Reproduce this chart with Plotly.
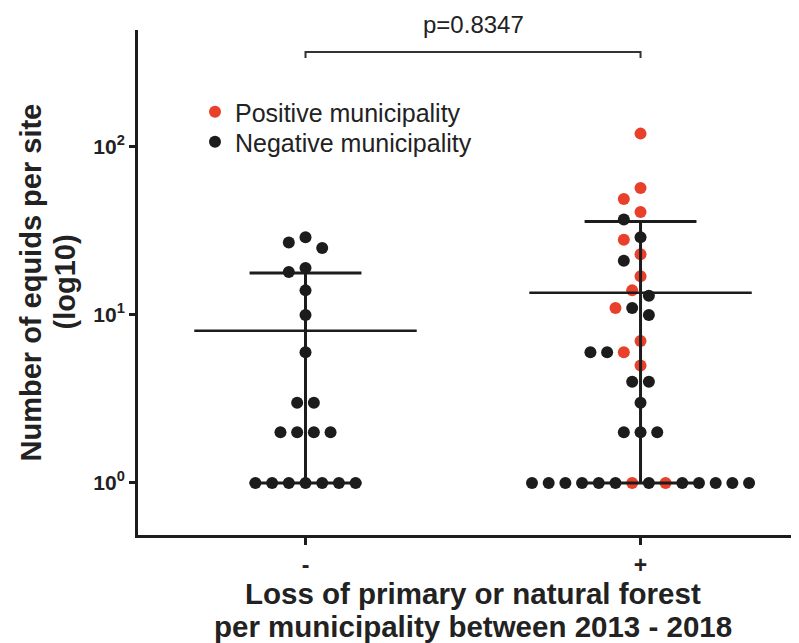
import numpy as np
import plotly.graph_objects as go

# ---------------- data ----------------
categories = ["-", "+"]
neg_values = [29, 27, 25, 19, 18, 14, 10, 6, 3, 3, 2, 2, 2, 2, 1, 1, 1, 1, 1, 1, 1]
neg_status = ["N"] * len(neg_values)
pos_values = [120, 57, 49, 41, 37, 29, 28, 23, 21, 17, 14, 13, 11, 11, 10, 7, 6, 6, 6, 5,
              4, 4, 3, 2, 2, 2,
              1, 1, 1, 1, 1, 1, 1, 1, 1, 1, 1, 1, 1, 1]
pos_status = ["P", "P", "P", "P", "N", "N", "P", "P", "N", "P", "P", "N", "P", "N", "N", "P",
              "N", "N", "P", "P",
              "N", "N", "N", "N", "N", "N",
              "N", "N", "N", "N", "N", "N", "P", "N", "P", "N", "N", "N", "N", "N"]
y_tick_vals = [1, 10, 100]
y_tick_text = ["10<sup>0</sup>", "10<sup>1</sup>", "10<sup>2</sup>"]
p_label = "p=0.8347"
legend_names = {"P": "Positive municipality", "N": "Negative municipality"}
y_title_lines = ["Number of equids per site", "(log10)"]
x_title_lines = ["Loss of primary or natural forest", "per municipality between 2013 - 2018"]

# ---------------- layout constants ----------------
W, H = 791, 635          # page has an 8px body margin
M = dict(l=130, r=0, t=22, b=108)
X_RANGE = [-0.5, 1.473]
Y_RANGE = [-0.31, 2.696]
plot_w = W - M["l"] - M["r"]
plot_h = H - M["t"] - M["b"]
px_per_x = plot_w / (X_RANGE[1] - X_RANGE[0])
px_per_dec = plot_h / (Y_RANGE[1] - Y_RANGE[0])
SLOT_PX = 16.7
RED = "#e8402a"
BLACK = "#1c1c1c"
TEXT = "#222222"
FONT = "Liberation Sans, Arial, sans-serif"


def px_to_paper_x(px):
    return (px - 8 - M["l"]) / plot_w


def px_to_paper_y(py):
    return (H - M["b"] - (py - 8)) / plot_h


def swarm(values):
    """Simple beeswarm: ties form centred rows, rows shift to avoid overlaps."""
    groups = {}
    for i, v in enumerate(values):
        groups.setdefault(v, []).append(i)
    placed = []
    offsets = [0.0] * len(values)
    cands = [0.0] + [s * j * 0.5 for j in range(1, 80) for s in (-1, 1)]
    for v in sorted(groups, reverse=True):
        idx = groups[v]
        n = len(idx)
        ypx = np.log10(v) * px_per_dec
        xs = None
        for c in cands:
            xs = [(c + k - (n - 1) / 2) * SLOT_PX for k in range(n)]
            if all(np.hypot(x - px, ypx - py) >= SLOT_PX * 0.98 for x in xs for (px, py) in placed):
                break
        for i, x in zip(idx, xs):
            offsets[i] = x / px_per_x
            placed.append((x, ypx))
    return offsets


fig = go.Figure()
groups = [(0, neg_values, neg_status), (1, pos_values, pos_status)]
legend_done = set()
legend_ref = {"P": "legend", "N": "legend2"}
for gx, vals, stat in groups:
    offs = swarm(vals)
    for key, col in (("N", BLACK), ("P", RED)):
        xs = [gx + o for o, s in zip(offs, stat) if s == key]
        ys = [v for v, s in zip(vals, stat) if s == key]
        if not xs:
            continue
        fig.add_trace(go.Scatter(
            x=xs, y=ys, mode="markers",
            marker=dict(size=12, color=col, line=dict(width=0)),
            name=legend_names[key], legend=legend_ref[key],
            showlegend=key not in legend_done, hoverinfo="skip"))
        legend_done.add(key)

# mean and SD lines
MEAN_HALF = 0.332
CAP_HALF = 0.167
for gx, vals, stat in groups:
    arr = np.array(vals, dtype=float)
    m = arr.mean()
    sd = arr.std(ddof=1)
    upper = m + sd
    lower = max(m - sd, arr.min())
    line = dict(color=BLACK, width=3)
    fig.add_trace(go.Scatter(x=[gx - MEAN_HALF, gx + MEAN_HALF], y=[m, m], mode="lines",
                             line=dict(color=BLACK, width=2.5), showlegend=False, hoverinfo="skip"))
    fig.add_trace(go.Scatter(x=[gx, gx], y=[lower, upper], mode="lines",
                             line=line, showlegend=False, hoverinfo="skip"))
    for yv in (upper, lower):
        fig.add_trace(go.Scatter(x=[gx - CAP_HALF, gx + CAP_HALF], y=[yv, yv], mode="lines",
                                 line=line, showlegend=False, hoverinfo="skip"))

# significance bracket between the two categories
yb_top, yb_end = px_to_paper_y(52), px_to_paper_y(58)
fig.add_shape(type="path", xref="x", yref="paper",
              path=f"M 0,{yb_end} L 0,{yb_top} L 1,{yb_top} L 1,{yb_end}",
              line=dict(color="#333333", width=2))
fig.add_annotation(x=0.5, xref="x", y=px_to_paper_y(25), yref="paper", text=p_label, showarrow=False,
                   font=dict(family=FONT, size=24, color=TEXT), yanchor="middle")

# axis titles as annotations (one per line for tight line spacing)
for line_txt, px in zip(y_title_lines, (30, 64)):
    fig.add_annotation(x=px_to_paper_x(px), xref="paper", y=0.5, yref="paper",
                       text=f"<b>{line_txt}</b>", textangle=-90,
                       showarrow=False, font=dict(family=FONT, size=29, color=TEXT),
                       xanchor="center", yanchor="middle")
for line_txt, py in zip(x_title_lines, (593, 626)):
    fig.add_annotation(x=px_to_paper_x(473), xref="paper", y=px_to_paper_y(py), yref="paper",
                       text=f"<b>{line_txt}</b>",
                       showarrow=False, font=dict(family=FONT, size=29.5, color=TEXT),
                       xanchor="center", yanchor="middle")

leg_common = dict(xanchor="left", yanchor="middle", bgcolor="rgba(0,0,0,0)",
                  font=dict(family=FONT, size=25, color=TEXT), itemsizing="trace")
fig.update_layout(
    width=W, height=H, margin=M,
    paper_bgcolor="white", plot_bgcolor="white",
    font=dict(family=FONT, color=TEXT),
    legend=dict(x=px_to_paper_x(195), y=px_to_paper_y(112), **leg_common),
    legend2=dict(x=px_to_paper_x(195), y=px_to_paper_y(142), **leg_common),
    xaxis=dict(range=X_RANGE, tickvals=[0, 1], ticktext=["<b>%s</b>" % c for c in categories],
               showline=True, linewidth=3, linecolor=BLACK, ticks="outside", ticklen=7,
               tickwidth=3, tickcolor=BLACK, showgrid=False, zeroline=False,
               tickfont=dict(family=FONT, size=23, color=TEXT)),
    yaxis=dict(type="log", range=Y_RANGE, tickvals=y_tick_vals, ticktext=["<b>%s</b>" % t for t in y_tick_text],
               showline=True, linewidth=3, linecolor=BLACK, ticks="outside", ticklen=6,
               tickwidth=3, tickcolor=BLACK, showgrid=False, zeroline=False,
               tickfont=dict(family=FONT, size=21, color=TEXT)),
)

fig.write_html("out.html")
